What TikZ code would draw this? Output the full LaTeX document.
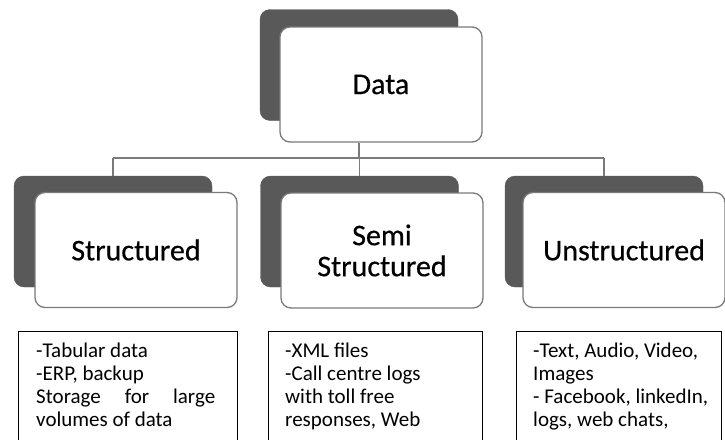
\documentclass[tikz,border=0pt]{standalone}
\usepackage{fontspec}
\setmainfont{Carlito}
\newfontfamily\labelfont[FakeBold=0.5]{Carlito}
\definecolor{shadowgray}{HTML}{595959}
\definecolor{linegray}{HTML}{7A7A7A}
\begin{document}
\begin{tikzpicture}[x=1pt,y=-1pt,
  shadowbox/.style={rectangle, rounded corners=10pt, fill=shadowgray, draw=shadowgray,
    minimum width=198pt, minimum height=111pt, inner sep=0pt},
  frontbox/.style={rectangle, rounded corners=10pt, fill=white, draw=linegray, line width=1.3pt,
    minimum width=202pt, minimum height=115pt, inner sep=0pt,
    font=\labelfont\fontsize{30}{31}\selectfont, align=center},
  conn/.style={draw=linegray, line width=1.6pt},
  infobox/.style={rectangle, draw=black, line width=1.2pt, anchor=north west, inner sep=0pt},
  infotext/.style={anchor=base west, inner sep=0pt, font=\fontsize{21}{23}\selectfont}]
\useasboundingbox (0,0) rectangle (725,439);
\clip (0,0) rectangle (725,439);
\fill[white] (0,0) rectangle (725,439);

% top node
\node[shadowbox] (dataS) at (359,65) {};
\node[frontbox] (data) at (381,84.5) {Data};

% children
\node[shadowbox] (strS) at (113,231.5) {};
\node[frontbox] (str) at (136,250) {Structured};
\node[shadowbox] (semiS) at (359.5,231.5) {};
\node[frontbox] (semi) at (382,250.5) {Semi\\Structured};
\node[shadowbox] (unsS) at (604,231.5) {};
\node[frontbox] (uns) at (624,250) {Unstructured};

% connectors
\coordinate (bus) at (0,158);
\draw[conn] (dataS.south |- data.south) -- (dataS.south |- bus);
\draw[conn] (strS.north |- bus) -- (unsS.north |- bus);
\draw[conn] (strS.north |- bus) -- (strS.north);
\draw[conn] (semiS.north |- bus) -- (semiS.north);
\draw[conn] (unsS.north |- bus) -- (unsS.north);

% info boxes
\node[infobox, minimum width=219pt, minimum height=130pt] (box1) at (18,331) {};
\node[infotext] (t1) at (36,357) {\parbox[t]{179pt}{-Tabular data\\-ERP, backup\\Storage\hfill for\hfill large\\volumes of data}};

\node[infobox, minimum width=214pt, minimum height=130pt] (box2) at (268,331) {};
\node[infotext] (t2) at (285,357) {\parbox[t]{190pt}{-XML files\\-Call centre logs\\with toll free\\responses, Web}};

\node[infobox, minimum width=205pt, minimum height=130pt] (box3) at (516,331) {};
\node[infotext] (t3) at (533,357) {\parbox[t]{185pt}{-Text, Audio, Video,\\Images\\- Facebook, linkedIn,\\logs, web chats,}};
\end{tikzpicture}
\end{document}
